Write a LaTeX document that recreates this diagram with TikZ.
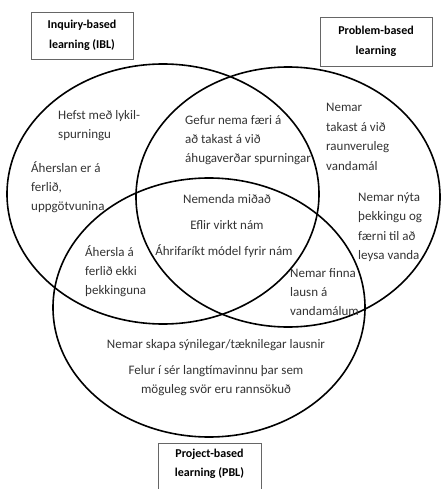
\documentclass[tikz,border=0pt]{standalone}
\usepackage{fontspec}
\setmainfont{Carlito}
\begin{document}
\begin{tikzpicture}[x=1pt,y=-1pt,
  venn/.style={line width=1.6pt, draw=black},
  txt/.style={font=\fontsize{13}{19}\selectfont, text=black!80, inner sep=0pt, align=left, anchor=west},
  ctxt/.style={font=\fontsize{13}{19}\selectfont, text=black!80, inner sep=0pt, align=center},
  boxtxt/.style={font=\bfseries\fontsize{12}{19.5}\selectfont, text=black, align=center, inner sep=0pt},
  boxline/.style={draw=black!60, line width=0.8pt}]
\useasboundingbox (0,0) rectangle (443,489);
\clip (0,0) rectangle (443,489);
% circles
\draw[venn] (163,194) ellipse [x radius=156pt, y radius=130pt];
\draw[venn] (288,197) ellipse [x radius=152pt, y radius=130pt];
\draw[venn] (209,307.5) ellipse [x radius=156pt, y radius=129.5pt];
% title boxes
\node[boxtxt, boxline, minimum width=102pt, minimum height=47pt] (ibl) at (82,35.5) {Inquiry-based\\learning (IBL)};
\node[boxtxt, boxline, minimum width=112pt, minimum height=49pt] (prbl) at (376,41.5) {Problem-based\\learning};
\node[boxtxt] (pbl) at (209.5,464) {Project-based\\learning (PBL)};
\coordinate (pblbl) at (158,495);
\coordinate (pbltl) at (158,443);
\coordinate (pbltr) at (261,443);
\coordinate (pblbr) at (261,495);
\draw[boxline] (pblbl) -- (pbltl) -- (pbltr) -- (pblbr);
% texts
\node[txt] (hefst) at (58,126) {Hefst með lykil-\\spurningu};
\node[txt] (aherslan) at (31,187) {Áherslan er á\\ferlið,\\uppgötvunina};
\node[txt] (gefur) at (185,140) {Gefur nema færi á\\að takast á við\\áhugaverðar spurningar};
\node[txt, font=\fontsize{13}{19.5}\selectfont] (takast) at (326,137) {Nemar\\takast á við\\raunveruleg\\vandamál};
\node[ctxt] (nemenda) at (227,199) {Nemenda miðað};
\node[ctxt] (eflir) at (227,225) {Eflir virkt nám};
\node[ctxt] (ahrif) at (224,251) {Áhrifaríkt módel fyrir nám};
\node[txt, font=\fontsize{13}{19.5}\selectfont] (nyta) at (358,227) {Nemar nýta\\þekkingu og\\færni til að\\leysa vanda};
\node[txt] (ahersla) at (85,271) {Áhersla á\\ferlið ekki\\þekkinguna};
\node[txt] (finna) at (290,292) {Nemar finna\\lausn á\\vandamálum};
\node[ctxt] (skapa) at (216,345) {Nemar skapa sýnilegar/tæknilegar lausnir};
\node[ctxt] (felur) at (216,381) {Felur í sér langtímavinnu þar sem\\möguleg svör eru rannsökuð};
\end{tikzpicture}
\end{document}
